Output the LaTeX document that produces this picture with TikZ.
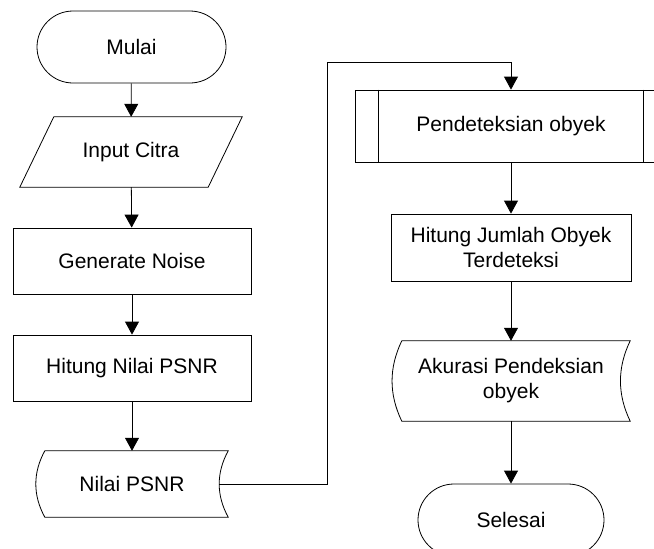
\documentclass[tikz,border=0pt]{standalone}
\usepackage{fontspec}
\setmainfont{Liberation Sans}
\usetikzlibrary{arrows.meta,shapes.misc}
\begin{document}
\begin{tikzpicture}[x=1pt,y=-1pt,
  every node/.style={font=\fontsize{21}{25}\selectfont, align=center, inner sep=2pt},
  line/.style={draw=black, line width=0.8pt},
  arr/.style={line, -{Triangle[length=13pt,width=14pt]}},
  term/.style={rounded rectangle, line, minimum width=#1, minimum height=72},
  proc/.style={rectangle, line, minimum width=#1},
  ghost/.style={rectangle, draw=none}
]
\clip (0,0) rectangle (654,549);
\fill[white] (0,0) rectangle (654,549);

% left column
\node[term=193] (mulai) at (131.5,47) {Mulai};
\node[ghost, minimum width=222, minimum height=70] (input) at (131,152) {Input Citra};
\draw[line] ([xshift=34pt]input.north west) -- (input.north east)
  -- ([xshift=-34pt]input.south east) -- (input.south west) -- cycle;
\node[proc=238, minimum height=66] (gen) at (132,261) {Generate Noise};
\node[proc=238, minimum height=66] (psnr) at (132,368) {Hitung Nilai PSNR};
\node[ghost, minimum width=192, minimum height=66] (nilai) at (132,484) {Nilai PSNR};
\draw[line] ([xshift=9pt]nilai.north west) -- (nilai.north east)
  .. controls ([xshift=-12pt,yshift=-22pt]nilai.north east) and ([xshift=-12pt,yshift=22pt]nilai.south east) .. (nilai.south east)
  -- ([xshift=9pt]nilai.south west)
  .. controls ([xshift=-3pt,yshift=22pt]nilai.south west) and ([xshift=-3pt,yshift=-22pt]nilai.north west) .. ([xshift=9pt]nilai.north west) -- cycle;

% right column
\node[proc=312, minimum height=72] (pend) at (511,126) {Pendeteksian obyek};
\draw[line] ([xshift=24pt]pend.north west) -- ([xshift=24pt]pend.south west);
\draw[line] ([xshift=-24pt]pend.north east) -- ([xshift=-24pt]pend.south east);
\node[proc=240, minimum height=67] (jumlah) at (511,247.5) {Hitung Jumlah Obyek\\Terdeteksi};
\node[ghost, minimum width=238, minimum height=80] (akurasi) at (511,381) {Akurasi Pendeksian\\obyek};
\draw[line] ([xshift=10pt]akurasi.north west) -- (akurasi.north east)
  .. controls ([xshift=-13pt,yshift=-27pt]akurasi.north east) and ([xshift=-13pt,yshift=27pt]akurasi.south east) .. (akurasi.south east)
  -- ([xshift=10pt]akurasi.south west)
  .. controls ([xshift=-3pt,yshift=27pt]akurasi.south west) and ([xshift=-3pt,yshift=-27pt]akurasi.north west) .. ([xshift=10pt]akurasi.north west) -- cycle;
\node[term=190] (selesai) at (511,520) {Selesai};

% connectors
\draw[arr] (mulai) -- (input);
\draw[arr] (input) -- (gen);
\draw[arr] (gen) -- (psnr);
\draw[arr] (psnr) -- (nilai);
\coordinate (bend) at (327,62);
\draw[arr] ([xshift=-9pt]nilai.east) -| (bend) -| (pend.north);
\draw[arr] (pend) -- (jumlah);
\draw[arr] (jumlah) -- (akurasi);
\draw[arr] (akurasi) -- (selesai);
\end{tikzpicture}
\end{document}
